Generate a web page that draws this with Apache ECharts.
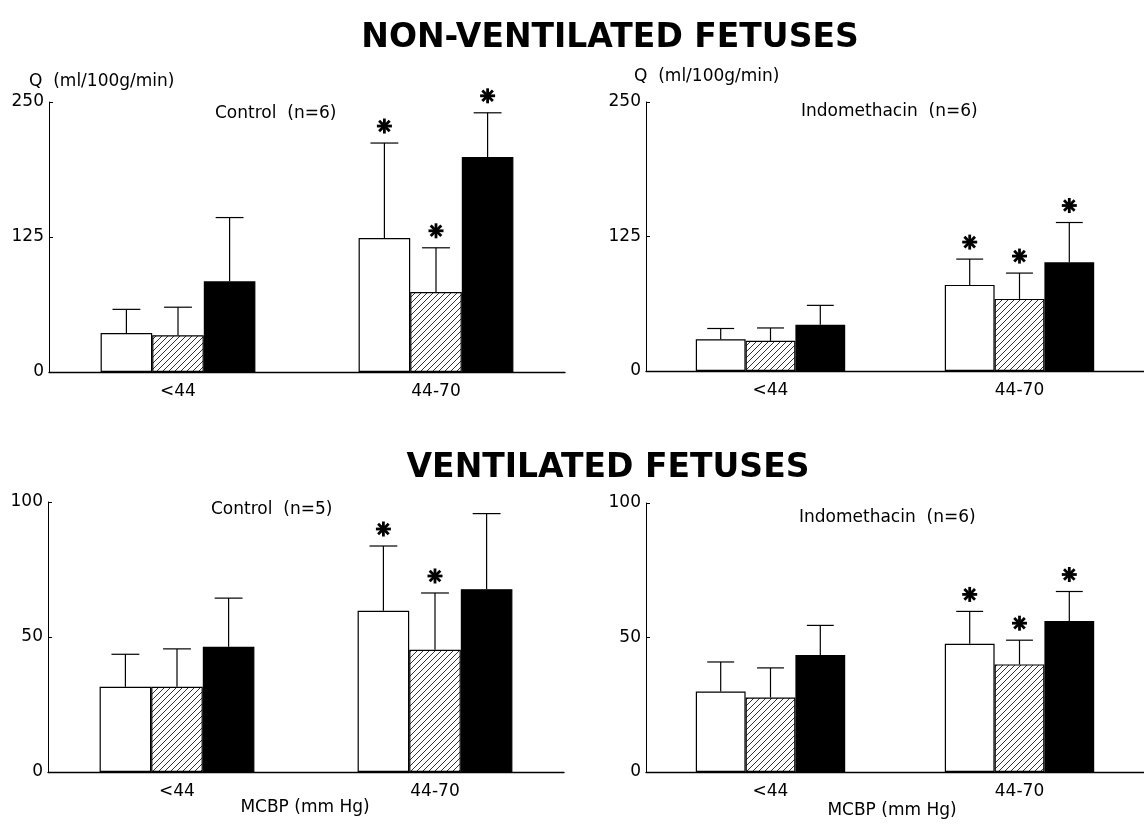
<!DOCTYPE html>
<html><head><meta charset="utf-8">
<script src="https://cdn.jsdelivr.net/npm/echarts@6/dist/echarts.min.js"></script>
<style>html,body{margin:0;padding:0;background:#fff}#c{width:1144px;height:829px}</style>
</head><body><div id="c"></div>
<script>
// ---------- data ----------
const categories = ['<44', '44-70'];
const xAxisTitle = 'MCBP (mm Hg)';
const yAxisTitle = 'Q  (ml/100g/min)';

// Non-ventilated, control (n=6)
const nvCtrlOpen = [36, 124];     const nvCtrlOpenSD = [22, 88];
const nvCtrlHatch = [34, 74];     const nvCtrlHatchSD = [26, 41];
const nvCtrlSolid = [84, 199];    const nvCtrlSolidSD = [59, 41];
const nvCtrlSig = [[0,0,0],[1,1,1]];

// Non-ventilated, indomethacin (n=6)
const nvIndoOpen = [29.5, 80];    const nvIndoOpenSD = [10, 24];
const nvIndoHatch = [28, 67];     const nvIndoHatchSD = [12, 24];
const nvIndoSolid = [43, 101];    const nvIndoSolidSD = [18, 37];
const nvIndoSig = [[0,0,0],[1,1,1]];

// Ventilated, control (n=5)
const vCtrlOpen = [31.6, 59.7];   const vCtrlOpenSD = [12, 24];
const vCtrlHatch = [31.6, 45.3];  const vCtrlHatchSD = [14, 21];
const vCtrlSolid = [46.4, 67.7];  const vCtrlSolidSD = [18, 28];
const vCtrlSig = [[0,0,0],[1,1,0]];

// Ventilated, indomethacin (n=6)
const vIndoOpen = [29.9, 47.7];   const vIndoOpenSD = [11, 12];
const vIndoHatch = [27.7, 40];    const vIndoHatchSD = [11, 9];
const vIndoSolid = [43.5, 56.1];  const vIndoSolidSD = [11, 11];
const vIndoSig = [[0,0,0],[1,1,1]];

// ---------- build ----------
const FONT = 'DejaVu Sans, Liberation Sans, Arial, sans-serif';
const BAR_FRAC = 0.2;

function hatchPattern(){
  const c = document.createElement('canvas');
  const s = 6; c.width = s; c.height = s;
  const g = c.getContext('2d');
  g.fillStyle = '#fff'; g.fillRect(0,0,s,s);
  g.strokeStyle = '#000'; g.lineWidth = 0.8;
  g.beginPath();
  g.moveTo(0,s); g.lineTo(s,0);
  g.moveTo(-1,1); g.lineTo(1,-1);
  g.moveTo(s-1,s+1); g.lineTo(s+1,s-1);
  g.stroke();
  return c;
}
const hatch = {image: hatchPattern(), repeat: 'repeat'};

const panels = [
  {grid:{left:49, top:102, width:516, height:270}, max:250, interval:125,
   vals:[nvCtrlOpen,nvCtrlHatch,nvCtrlSolid], sds:[nvCtrlOpenSD,nvCtrlHatchSD,nvCtrlSolidSD], sig:nvCtrlSig},
  {grid:{left:646, top:102, width:510, height:269}, max:250, interval:125,
   vals:[nvIndoOpen,nvIndoHatch,nvIndoSolid], sds:[nvIndoOpenSD,nvIndoHatchSD,nvIndoSolidSD], sig:nvIndoSig},
  {grid:{left:48, top:502, width:516, height:270}, max:100, interval:50,
   vals:[vCtrlOpen,vCtrlHatch,vCtrlSolid], sds:[vCtrlOpenSD,vCtrlHatchSD,vCtrlSolidSD], sig:vCtrlSig},
  {grid:{left:646, top:503, width:510, height:269}, max:100, interval:50,
   vals:[vIndoOpen,vIndoHatch,vIndoSolid], sds:[vIndoOpenSD,vIndoHatchSD,vIndoSolidSD], sig:vIndoSig}
];

const fills = ['#ffffff', hatch, '#000000'];
const names = ['open', 'hatched', 'solid'];

function renderErr(params, api){
  const cat = api.value(0), mean = api.value(1), sd = api.value(2), sig = api.value(3), k = api.value(4);
  const base = api.coord([cat, mean]);
  const top = api.coord([cat, mean + sd]);
  const bw = api.size([1, 0])[0] * BAR_FRAC;
  const x = base[0] + (k - 1) * bw;
  const half = bw * 0.27;
  const st = {stroke:'#000', lineWidth:1.2};
  const children = [
    {type:'line', shape:{x1:x, y1:base[1], x2:x, y2:top[1]}, style:st},
    {type:'line', shape:{x1:x-half, y1:top[1], x2:x+half, y2:top[1]}, style:st}
  ];
  if (sig) {
    const cy = top[1] - 17, r = 7.5;
    const ast = {stroke:'#000', lineWidth:2.8};
    for (let i = 0; i < 4; i++) {
      const a = i * Math.PI / 4;
      children.push({type:'line', shape:{x1:x - r*Math.cos(a), y1:cy - r*Math.sin(a), x2:x + r*Math.cos(a), y2:cy + r*Math.sin(a)}, style:ast});
    }
  }
  return {type:'group', children};
}

const grid = [], xAxis = [], yAxis = [], series = [];
panels.forEach((p, i) => {
  grid.push(p.grid);
  xAxis.push({type:'category', gridIndex:i, data:categories,
    axisLine:{lineStyle:{color:'#000', width:1.3}}, axisTick:{show:false},
    axisLabel:{color:'#000', fontSize:17, fontFamily:FONT, margin:11}});
  yAxis.push({type:'value', gridIndex:i, min:0, max:p.max, interval:p.interval,
    splitLine:{show:false},
    axisLine:{show:true, lineStyle:{color:'#000', width:1}},
    axisTick:{show:true, inside:true, length:4, lineStyle:{color:'#000'}},
    axisLabel:{color:'#000', fontSize:17, fontFamily:FONT, margin:5}});
  for (let k = 0; k < 3; k++) {
    series.push({type:'bar', name:names[k], xAxisIndex:i, yAxisIndex:i,
      data:p.vals[k], barWidth:(BAR_FRAC*100)+'%', barGap:'0%',
      itemStyle:{color:fills[k], borderColor:'#000', borderWidth:1.2},
      silent:true, animation:false});
  }
  const errData = [];
  for (let k = 0; k < 3; k++) {
    for (let c = 0; c < categories.length; c++) {
      errData.push([c, p.vals[k][c], p.sds[k][c], p.sig[c][k], k]);
    }
  }
  series.push({type:'custom', xAxisIndex:i, yAxisIndex:i, data:errData,
    renderItem:renderErr, z:5, silent:true, animation:false});
});

const small = {color:'#000', fontSize:17, fontWeight:'normal', fontFamily:FONT};
const big = {color:'#000', fontSize:33, fontWeight:'bold', fontFamily:FONT};
const title = [
  {text:'NON-VENTILATED FETUSES', left:605, top:17, textAlign:'center', textStyle:big},
  {text:'VENTILATED FETUSES', left:603, top:447, textAlign:'center', textStyle:big},
  {text:yAxisTitle, left:24, top:68, textStyle:small},
  {text:yAxisTitle, left:629, top:63, textStyle:small},
  {text:'Control  (n=6)', left:210, top:100, textStyle:small},
  {text:'Indomethacin  (n=6)', left:796, top:98, textStyle:small},
  {text:'Control  (n=5)', left:206, top:496, textStyle:small},
  {text:'Indomethacin  (n=6)', left:794, top:504, textStyle:small},
  {text:xAxisTitle, left:300, top:794, textAlign:'center', textStyle:small},
  {text:xAxisTitle, left:887, top:797, textAlign:'center', textStyle:small}
];

const chart = echarts.init(document.getElementById('c'), null, {renderer:'canvas'});
chart.setOption({backgroundColor:'#fff', animation:false, title, grid, xAxis, yAxis, series});
</script>
</body></html>
